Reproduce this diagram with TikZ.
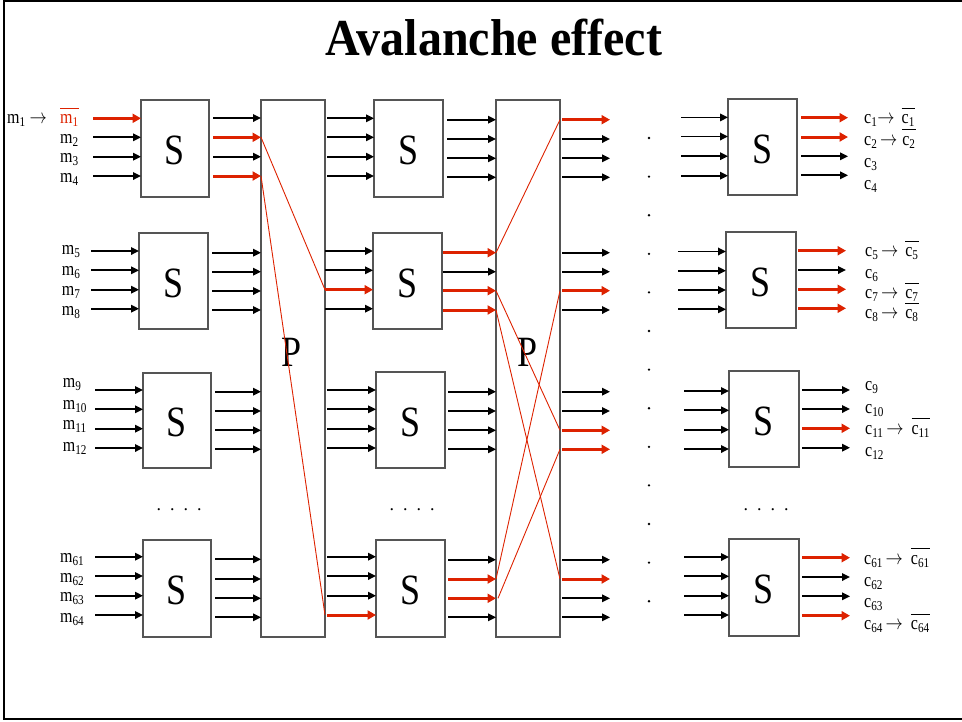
\documentclass[tikz,border=0pt]{standalone}
\usepackage{fontspec}
\setmainfont{Liberation Serif}
\usepackage{graphicx}
\usetikzlibrary{arrows.meta}
\definecolor{redA}{RGB}{221,34,0}
\definecolor{boxgray}{RGB}{85,85,85}
\newcommand\tall[1]{\scalebox{1}[1.2]{#1}}
\newcommand\ovl[1]{$\overline{\mbox{\rule{0pt}{0.72em}#1}}$}
\newcommand\sbs[1]{\textsubscript{#1}}
\begin{document}
\begin{tikzpicture}[x=1pt,y=-1pt,
  arr/.style={line width=1.7pt,-{Triangle[length=8pt,width=7.5pt]}},
  rarr/.style={line width=3pt,draw=redA,-{Triangle[length=8.5pt,width=9pt]}},
  rline/.style={draw=redA,line width=0.9pt},
  box/.style={draw=boxgray,line width=1.2pt,inner sep=0pt},
  lab/.style={font=\fontsize{16}{16}\selectfont,inner sep=0pt,anchor=base west},
  big/.style={font=\fontsize{36}{36}\selectfont,inner sep=0pt},
  dotrow/.style={font=\fontsize{18}{18}\selectfont,inner sep=0pt,anchor=base}]
\useasboundingbox (0,0) rectangle (962,721);
\draw[line width=2pt] (962,1) -- (3.5,1) -- (3.5,719) -- (962,719);
\node[font=\bfseries\fontsize{48}{48}\selectfont,inner sep=0pt,anchor=base] (title) at (494,55) {\scalebox{1}[1.08]{Avalanche effect}};

% S boxes column 1
\node[box,minimum width=68pt,minimum height=97pt] (s11) at (175,148.5) {};
\node[box,minimum width=69pt,minimum height=96pt] (s12) at (173.5,281) {};
\node[box,minimum width=68pt,minimum height=95pt] (s13) at (177,420.5) {};
\node[box,minimum width=68pt,minimum height=97pt] (s14) at (177,588.5) {};
% column 2
\node[box,minimum width=69pt,minimum height=97pt] (s21) at (408.5,148.5) {};
\node[box,minimum width=69pt,minimum height=96pt] (s22) at (407.5,281) {};
\node[box,minimum width=69pt,minimum height=96pt] (s23) at (410.5,420) {};
\node[box,minimum width=69pt,minimum height=97pt] (s24) at (410.5,588.5) {};
% column 4
\node[box,minimum width=69pt,minimum height=96pt] (s41) at (762.5,147) {};
\node[box,minimum width=70pt,minimum height=96pt] (s42) at (761,280) {};
\node[box,minimum width=70pt,minimum height=96pt] (s43) at (764,419) {};
\node[box,minimum width=70pt,minimum height=97pt] (s44) at (764,587.5) {};
\foreach \n in {s11,s12,s13,s14,s21,s22,s23,s24,s41,s42,s43,s44}
  \node[big] (\n t) at ([yshift=-2pt]\n.center) {\tall{S}};
% P boxes
\node[box,minimum width=64pt,minimum height=537pt] (P1) at (293,368.5) {};
\node[box,minimum width=64pt,minimum height=537pt] (P2) at (528,368.5) {};
\node[big] (P1t) at (292,352) {\tall{P}};
\node[big] (P2t) at (528,352) {\tall{P}};

% column 1 inputs
\draw[rarr] (93,118.3) -- (141,118.3);
\foreach \y in {137.3,156.7,176} \draw[arr] (93,\y) -- (141,\y);
\foreach \y in {251,270.3,289.7,308.7} \draw[arr] (91,\y) -- (139,\y);
\foreach \y in {390,409.3,428.7,448} \draw[arr] (95,\y) -- (143,\y);
\foreach \y in {556.7,576,595.7,615} \draw[arr] (95,\y) -- (143,\y);
% column 1 outputs
\foreach \y/\s in {118/arr,137.3/rarr,156.7/arr,176/rarr} \draw[\s] (213,\y) -- (261,\y);
\foreach \y in {252.7,271.7,291,310} \draw[arr] (212,\y) -- (261,\y);
\foreach \y in {391.7,411,430.3,449.3} \draw[arr] (215,\y) -- (261,\y);
\foreach \y in {559.3,579,598.3,617.3} \draw[arr] (215,\y) -- (261,\y);
% column 2 inputs
\foreach \y in {118.3,137.3,156.7,176} \draw[arr] (327,\y) -- (374,\y);
\foreach \y/\s in {251/arr,270.3/arr,289.7/rarr,308.7/arr} \draw[\s] (325,\y) -- (373,\y);
\foreach \y in {390,409.3,428.7,448} \draw[arr] (327,\y) -- (376,\y);
\foreach \y/\s in {556.7/arr,576/arr,595.7/arr,615/rarr} \draw[\s] (327,\y) -- (376,\y);
% column 2 outputs
\foreach \y in {119.7,139,158.3,177.3} \draw[arr] (447,\y) -- (496,\y);
\foreach \y/\s in {252.7/rarr,271.7/arr,290.7/rarr,310/rarr} \draw[\s] (443,\y) -- (496,\y);
\foreach \y in {391.7,411,430.3,449.3} \draw[arr] (448,\y) -- (496,\y);
\foreach \y/\s in {559.7/arr,579/rarr,598.3/rarr,617.3/arr} \draw[\s] (448,\y) -- (496,\y);
% column 3 outputs
\foreach \y/\s in {119.7/rarr,139/arr,158.3/arr,177.3/arr,
                   252.7/arr,271.7/arr,290.7/rarr,310/arr,
                   391.7/arr,411/arr,430.3/rarr,449.3/rarr,
                   559.7/arr,579/rarr,598.3/arr,617.3/arr} \draw[\s] (562,\y) -- (610,\y);
% column 4 inputs
\foreach \y in {117.4,136.5,156.2,175.7} \draw[arr] (681,\y) -- (728,\y);
\foreach \y in {251.5,270.7,290,309.3} \draw[arr] (678,\y) -- (726,\y);
\foreach \y in {391,410.3,429.7,449} \draw[arr] (684,\y) -- (729,\y);
\foreach \y in {557,576.3,595.7,615} \draw[arr] (684,\y) -- (729,\y);
% column 4 outputs
\foreach \y/\s in {117.7/rarr,137/rarr,156.3/arr,175.3/arr} \draw[\s] (801,\y) -- (848,\y);
\foreach \y/\s in {250.7/rarr,270/arr,289.3/rarr,308.3/rarr} \draw[\s] (798,\y) -- (846,\y);
\foreach \y/\s in {390/arr,409/arr,428.3/rarr,447.7/arr} \draw[\s] (802,\y) -- (850,\y);
\foreach \y/\s in {557.7/rarr,577/arr,596.3/arr,615.7/rarr} \draw[\s] (802,\y) -- (850,\y);

% permutation lines
\draw[rline] (261,137.3) -- (325,289.7);
\draw[rline] (261,176) -- (325,615);
\draw[rline] (496,252.7) -- (560,119.7);
\draw[rline] (496,290.7) -- (560,430.3);
\draw[rline] (496,310) -- (560,579);
\draw[rline] (496,579) -- (560,290.7);
\draw[rline] (498,598.3) -- (560,449.3);

% dot column
\foreach \i in {0,...,12} \fill (649,138+38.6*\i) circle[radius=1.3pt];
\node[dotrow] (d1) at (179,510) {.\hspace{9pt}.\hspace{9pt}.\hspace{9pt}.};
\node[dotrow] (d2) at (412,510) {.\hspace{9pt}.\hspace{9pt}.\hspace{9pt}.};
\node[dotrow] (d4) at (766,510) {.\hspace{9pt}.\hspace{9pt}.\hspace{9pt}.};

% left labels
\node[lab] (m1a) at (7,123.3) {\tall{m\sbs{1} $\rightarrow$}};
\node[lab,text=redA] (m1) at (60,123.3) {\tall{\ovl{m\sbs{1}}}};
\node[lab] (m2) at (60,143.3) {\tall{m\sbs{2}}};
\node[lab] (m3) at (60,162.7) {\tall{m\sbs{3}}};
\node[lab] (m4) at (60,182.3) {\tall{m\sbs{4}}};
\node[lab] (m5) at (61.7,254) {\tall{m\sbs{5}}};
\node[lab] (m6) at (61.7,275) {\tall{m\sbs{6}}};
\node[lab] (m7) at (61.7,295) {\tall{m\sbs{7}}};
\node[lab] (m8) at (61.7,315) {\tall{m\sbs{8}}};
\node[lab] (m9) at (62.7,387) {\tall{m\sbs{9}}};
\node[lab] (m10) at (62.7,409.5) {\tall{m\sbs{10}}};
\node[lab] (m11) at (62.7,429) {\tall{m\sbs{11}}};
\node[lab] (m12) at (62.7,451.5) {\tall{m\sbs{12}}};
\node[lab] (m61) at (60,562.3) {\tall{m\sbs{61}}};
\node[lab] (m62) at (60,582.3) {\tall{m\sbs{62}}};
\node[lab] (m63) at (60,601.7) {\tall{m\sbs{63}}};
\node[lab] (m64) at (60,622.3) {\tall{m\sbs{64}}};

% right labels
\node[lab] (c1) at (864,123.3) {\tall{c\sbs{1}$\rightarrow$\hspace{7pt}\ovl{c\sbs{1}}}};
\node[lab] (c2) at (864,145) {\tall{c\sbs{2}\,$\rightarrow$\hspace{5pt}\ovl{c\sbs{2}}}};
\node[lab] (c3) at (864,167.3) {\tall{c\sbs{3}}};
\node[lab] (c4) at (864,189) {\tall{c\sbs{4}}};
\node[lab] (c5) at (865,256.7) {\tall{c\sbs{5}\,$\rightarrow$\hspace{7pt}\ovl{c\sbs{5}}}};
\node[lab] (c6) at (865,278.3) {\tall{c\sbs{6}}};
\node[lab] (c7) at (865,298.3) {\tall{c\sbs{7}\,$\rightarrow$\hspace{7pt}\ovl{c\sbs{7}}}};
\node[lab] (c8) at (865,318.3) {\tall{c\sbs{8}\,$\rightarrow$\hspace{7pt}\ovl{c\sbs{8}}}};
\node[lab] (c9) at (865,390.7) {\tall{c\sbs{9}}};
\node[lab] (c10) at (865,413.3) {\tall{c\sbs{10}}};
\node[lab] (c11) at (865,434) {\tall{c\sbs{11}\,$\rightarrow$\hspace{8pt}\ovl{c\sbs{11}}}};
\node[lab] (c12) at (865,456) {\tall{c\sbs{12}}};
\node[lab] (c61) at (864,564) {\tall{c\sbs{61}\,$\rightarrow$\hspace{8pt}\ovl{c\sbs{61}}}};
\node[lab] (c62) at (864,586.7) {\tall{c\sbs{62}}};
\node[lab] (c63) at (864,607.3) {\tall{c\sbs{63}}};
\node[lab] (c64) at (864,629.3) {\tall{c\sbs{64}\,$\rightarrow$\hspace{8pt}\ovl{c\sbs{64}}}};
\end{tikzpicture}
\end{document}
